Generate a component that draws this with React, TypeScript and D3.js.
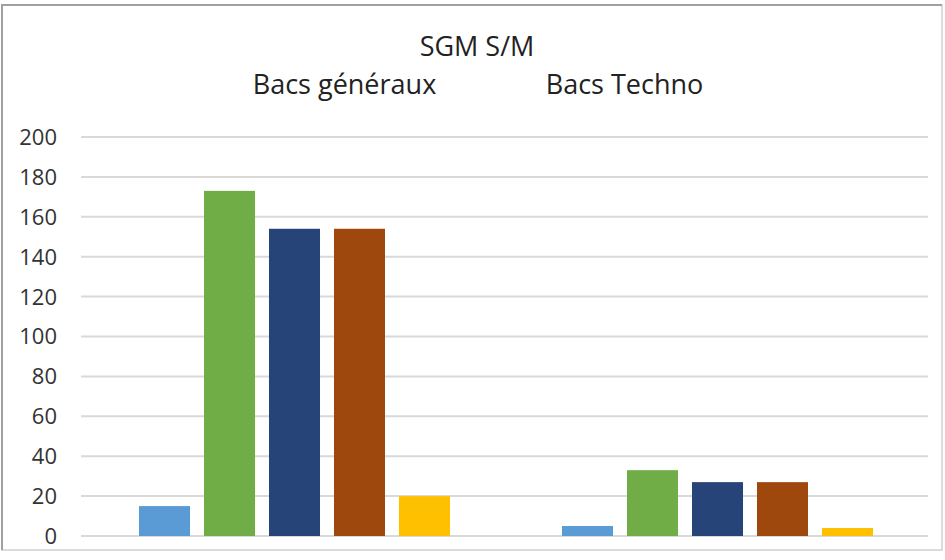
import { useEffect, useRef } from 'react'
import * as d3 from 'd3'

const categories = ['Bacs généraux', 'Bacs Techno']
const seriesNames = ['S1', 'S2', 'S3', 'S4', 'S5']
const seriesColors = ['#5b9bd5', '#70ad47', '#264478', '#9e480e', '#ffc000']
const valuesGeneraux = [15, 173, 154, 154, 20]
const valuesTechno = [5, 33, 27, 27, 4]
const yTicks = [0, 20, 40, 60, 80, 100, 120, 140, 160, 180, 200]

export default function App() {
  const svgRef = useRef<SVGSVGElement>(null)

  useEffect(() => {
    if (!svgRef.current) return
    const svg = d3.select(svgRef.current)
    svg.selectAll('*').remove()

    const width = 945
    const height = 560
    const margin = { top: 137, right: 16, bottom: 24, left: 83 }
    const font = '"Open Sans", sans-serif'

    // chart frame: darker left/top edges, faint right/bottom like the scan
    svg.append('rect')
      .attr('x', 2).attr('y', 5)
      .attr('width', width - 5).attr('height', height - 15)
      .attr('fill', '#fff')
      .attr('stroke', '#d0d0d0')
      .attr('stroke-width', 1.5)
    svg.append('path')
      .attr('d', `M2,${height - 10}V5H${width - 3}`)
      .attr('fill', 'none')
      .attr('stroke', '#a0a0a0')
      .attr('stroke-width', 2)

    const x0 = d3.scaleBand<string>()
      .domain(categories)
      .range([margin.left, width - margin.right])

    const x1 = d3.scaleBand<string>()
      .domain(seriesNames)
      .range([56, x0.bandwidth() - 56])
      .paddingInner(0.215)
      .paddingOuter(0)

    const y = d3.scaleLinear()
      .domain([0, 200])
      .range([height - margin.bottom, margin.top])

    // gridlines
    svg.append('g')
      .selectAll('line')
      .data(yTicks)
      .join('line')
      .attr('x1', margin.left - 2)
      .attr('x2', width - margin.right - 1)
      .attr('y1', d => y(d))
      .attr('y2', d => y(d))
      .attr('stroke', '#d9d9d9')
      .attr('stroke-width', 2)

    // y tick labels
    svg.append('g')
      .selectAll('text')
      .data(yTicks)
      .join('text')
      .attr('x', 57)
      .attr('y', d => y(d))
      .attr('dy', '0.36em')
      .attr('text-anchor', 'end')
      .attr('font-family', font)
      .attr('font-size', 22)
      .attr('fill', '#333')
      .text(d => d)

    const data = categories.map((c, i) => ({
      cat: c,
      values: (i === 0 ? valuesGeneraux : valuesTechno)
    }))

    const groups = svg.append('g')
      .selectAll('g')
      .data(data)
      .join('g')
      .attr('transform', d => `translate(${x0(d.cat)},0)`)

    groups.selectAll('rect')
      .data(d => d.values.map((v, i) => ({ name: seriesNames[i], v, color: seriesColors[i] })))
      .join('rect')
      .attr('x', d => x1(d.name) as number)
      .attr('width', x1.bandwidth())
      .attr('y', d => y(d.v))
      .attr('height', d => y(0) - y(d.v))
      .attr('fill', d => d.color)

    // title lines
    const titles = [
      { text: 'SGM S/M', x: 477, y: 56 },
      { text: 'Bacs généraux', x: 344.5, y: 94 },
      { text: 'Bacs Techno', x: 624.5, y: 94 }
    ]
    svg.append('g')
      .selectAll('text')
      .data(titles)
      .join('text')
      .attr('x', d => d.x)
      .attr('y', d => d.y)
      .attr('text-anchor', 'middle')
      .attr('font-family', font)
      .attr('font-size', 27)
      .attr('fill', '#222')
      .text(d => d.text)
  }, [])

  return (
    <svg
      ref={svgRef}
      width={945}
      height={560}
      style={{ position: 'absolute', left: 0, top: 0, background: '#fff' }}
    />
  )
}
